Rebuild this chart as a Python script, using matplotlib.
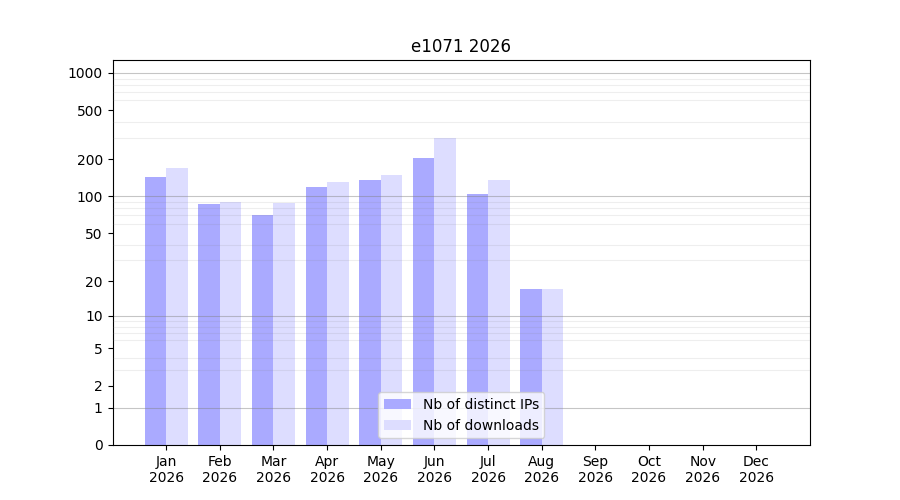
import numpy as np
import matplotlib
matplotlib.use("Agg")
import matplotlib.pyplot as plt
from matplotlib.ticker import FixedLocator

# Monthly data
months = ["Jan", "Feb", "Mar", "Apr", "May", "Jun", "Jul", "Aug", "Sep", "Oct", "Nov", "Dec"]
year = "2026"
distinct_ips = [145, 87, 70, 120, 135, 205, 105, 17, 0, 0, 0, 0]
downloads = [170, 90, 88, 130, 150, 300, 135, 17, 0, 0, 0, 0]

# log(1+x) scale
def fwd(v):
    return np.log10(1 + np.clip(v, 0, None))

def inv(v):
    return 10 ** v - 1

fig, ax = plt.subplots(figsize=(9, 5), dpi=100)
ax.set_yscale("function", functions=(fwd, inv))

x = np.arange(1, len(months) + 1)
w = 0.4
ax.bar(x - w / 2, distinct_ips, width=w, color="#aaaaff", label="Nb of distinct IPs")
ax.bar(x + w / 2, downloads, width=w, color="#ddddff", label="Nb of downloads")

ax.set_xlim(0, 13)
ax.set_ylim(0, 1270)
ax.set_xticks(x)
ax.set_xticklabels([m + "\n" + year for m in months])

major = [0, 1, 2, 5, 10, 20, 50, 100, 200, 500, 1000]
ax.yaxis.set_major_locator(FixedLocator(major))
ax.set_yticklabels([str(v) for v in major])
minor = [v * d for d in (1, 10, 100) for v in range(2, 10)]
ax.yaxis.set_minor_locator(FixedLocator(minor))
ax.tick_params(axis="y", which="minor", length=0)

# grid drawn over the bars
ax.set_axisbelow(False)
for v in [1, 10, 100, 1000]:
    ax.axhline(v, color="gray", alpha=0.45, linewidth=0.8)
ax.grid(axis="y", which="minor", color="gray", alpha=0.13, linewidth=0.8)

ax.set_title("e1071 2026")
ax.legend(loc="lower center")

plt.savefig("out.png")
